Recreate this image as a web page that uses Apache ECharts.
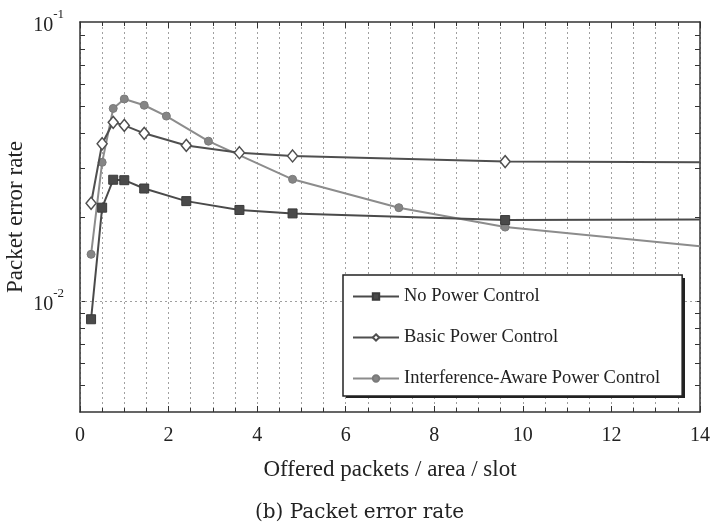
<!DOCTYPE html>
<html>
<head>
<meta charset="utf-8">
<script src="https://cdn.jsdelivr.net/npm/echarts@6/dist/echarts.min.js"></script>
<style>
html,body{margin:0;padding:0;background:#fff;}
#chart{width:710px;height:522px;}
</style>
</head>
<body>
<div id="chart"></div>
<script>
// ---- Data ----
const seriesNames = ['No Power Control', 'Basic Power Control', 'Interference-Aware Power Control'];
const xNoPC  = [0.25, 0.5, 0.75, 1, 1.45, 2.4, 3.6, 4.8, 9.6, 14];
const yNoPC  = [0.0086, 0.0216, 0.0272, 0.0271, 0.0253, 0.0228, 0.0212, 0.0206, 0.0195, 0.0196];
const xBasic = [0.25, 0.5, 0.75, 1, 1.45, 2.4, 3.6, 4.8, 9.6, 14];
const yBasic = [0.0224, 0.0366, 0.0437, 0.0426, 0.0399, 0.0361, 0.0340, 0.0331, 0.0316, 0.0314];
const xIA    = [0.25, 0.5, 0.75, 1, 1.45, 1.95, 2.9, 4.8, 7.2, 9.6, 14];
const yIA    = [0.0147, 0.0314, 0.0490, 0.0530, 0.0503, 0.0460, 0.0374, 0.0273, 0.0216, 0.0184, 0.0157];
const xTickLabels = [0, 2, 4, 6, 8, 10, 12, 14];
const yLabelValues = [0.01, 0.1];
const yMinorTickValues = [0.005, 0.006, 0.007, 0.008, 0.009, 0.01, 0.02, 0.03, 0.04, 0.05, 0.06, 0.07, 0.08, 0.09];

function pairs(xs, ys) {
  return xs.map((x, i) => {
    const item = { value: [x, ys[i]] };
    if (x >= 14) item.symbol = 'none';  // line runs off the right edge without a marker
    return item;
  });
}

const serif = 'Liberation Serif';
const axisCol = '#333';
const gridLine = { show: true, lineStyle: { color: '#a0a0a0', type: [2, 3], width: 1 } };

const chart = echarts.init(document.getElementById('chart'), null, { renderer: 'canvas' });
chart.setOption({
  animation: false,
  backgroundColor: '#fff',
  textStyle: { fontFamily: serif, color: '#222' },
  grid: { left: 80, right: 10, top: 22, bottom: 110, containLabel: false, outerBoundsMode: 'none' },
  legend: {
    orient: 'vertical',
    left: 343, top: 275,
    padding: [12, 22, 8, 9],
    itemGap: 22,
    itemWidth: 46, itemHeight: 8,
    backgroundColor: '#fff',
    borderColor: '#222', borderWidth: 1.5,
    z: 20,
    textStyle: { fontFamily: serif, fontSize: 18.5, color: '#222' },
    data: seriesNames
  },
  xAxis: [{
    type: 'value', min: 0, max: 14, interval: 2,
    name: 'Offered packets / area / slot',
    nameLocation: 'middle', nameGap: 46, nameMoveOverlap: false,
    nameTextStyle: { fontFamily: serif, fontSize: 23, color: '#222' },
    axisLine: { show: true, onZero: false, lineStyle: { color: axisCol, width: 1.5 } },
    axisTick: { show: true, inside: true, length: 6, lineStyle: { color: axisCol } },
    minorTick: { show: true, splitNumber: 4, length: 4, lineStyle: { color: axisCol } },
    axisLabel: { fontFamily: serif, fontSize: 20, color: '#222', margin: 14,
      formatter: v => (xTickLabels.indexOf(v) >= 0 ? String(v) : '') },
    splitLine: gridLine,
    minorSplitLine: gridLine
  }, {
    type: 'value', min: 0, max: 14, interval: 2, position: 'top',
    axisLine: { show: true, onZero: false, lineStyle: { color: axisCol, width: 1.5 } },
    axisTick: { show: true, inside: true, length: 6, lineStyle: { color: axisCol } },
    minorTick: { show: true, splitNumber: 4, length: 4, lineStyle: { color: axisCol } },
    axisLabel: { show: false },
    splitLine: { show: false }
  }],
  yAxis: [{
    type: 'log', logBase: 10, min: 0.004, max: 0.1,
    name: 'Packet error rate',
    nameLocation: 'middle', nameGap: 53, nameRotate: 90, nameMoveOverlap: false,
    nameTextStyle: { fontFamily: serif, fontSize: 23, color: '#222' },
    axisLine: { show: true, onZero: false, lineStyle: { color: axisCol, width: 1.5 } },
    axisTick: { show: true, inside: true, length: 5, customValues: yMinorTickValues, lineStyle: { color: axisCol } },
    axisLabel: {
      customValues: yLabelValues,
      margin: 16,
      formatter: v => {
        const e = Math.round(Math.log10(v));
        return '{b|10}{s|' + e + '}';
      },
      rich: {
        b: { fontFamily: serif, fontSize: 20, color: '#222', lineHeight: 28, verticalAlign: 'bottom' },
        s: { fontFamily: serif, fontSize: 13, color: '#222', lineHeight: 28, verticalAlign: 'top' }
      }
    },
    splitLine: { show: false }
  }, {
    type: 'log', logBase: 10, min: 0.004, max: 0.1, position: 'right',
    axisLine: { show: true, onZero: false, lineStyle: { color: axisCol, width: 1.5 } },
    axisTick: { show: true, inside: true, length: 5, customValues: yMinorTickValues, lineStyle: { color: axisCol } },
    axisLabel: { show: false },
    splitLine: { show: false }
  }],
  series: [{
    name: seriesNames[0], type: 'line', xAxisIndex: 0, yAxisIndex: 0,
    data: pairs(xNoPC, yNoPC),
    symbol: 'rect', symbolSize: 9,
    lineStyle: { color: '#4a4a4a', width: 2 },
    itemStyle: { color: '#4a4a4a', borderColor: '#3a3a3a', borderWidth: 1 },
    z: 4,
    markLine: {
      silent: true, symbol: 'none', label: { show: false },
      lineStyle: { color: '#a0a0a0', type: [2, 3], width: 1 },
      data: [{ yAxis: 0.01 }]
    }
  }, {
    name: seriesNames[1], type: 'line', xAxisIndex: 0, yAxisIndex: 0,
    data: pairs(xBasic, yBasic),
    symbol: 'diamond', symbolSize: [10, 12],
    lineStyle: { color: '#4f4f4f', width: 2 },
    itemStyle: { color: '#fff', borderColor: '#4f4f4f', borderWidth: 1.5 },
    z: 5
  }, {
    name: seriesNames[2], type: 'line', xAxisIndex: 0, yAxisIndex: 0,
    data: pairs(xIA, yIA),
    symbol: 'circle', symbolSize: 8,
    lineStyle: { color: '#8c8c8c', width: 2 },
    itemStyle: { color: '#858585', borderColor: '#7a7a7a', borderWidth: 1 },
    z: 3
  }],
  graphic: [{
    type: 'rect', z: 19,
    shape: { x: 346, y: 278, width: 339, height: 120 },
    style: { fill: '#222' }
  }, {
    type: 'text', left: 255, top: 503,
    style: { text: '(b) Packet error rate', font: '20px "DejaVu Serif"', fill: '#222' }
  }]
});
</script>
</body>
</html>
